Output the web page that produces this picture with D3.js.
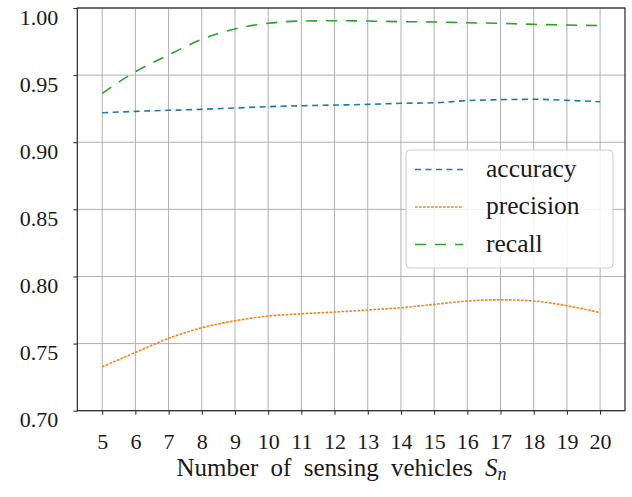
<!DOCTYPE html>
<html>
<head>
<meta charset="utf-8">
<script src="https://cdn.jsdelivr.net/npm/d3@7"></script>
<style>
  body { margin: 0; background: #fff; }
  text { font-family: "Liberation Serif", "DejaVu Serif", serif; fill: #1a1a1a; }
</style>
</head>
<body>
<div id="chart"></div>
<script>
// Data
var vehicles = [5, 6, 7, 8, 9, 10, 11, 12, 13, 14, 15, 16, 17, 18, 19, 20];
var accuracy = [0.922, 0.923, 0.9238, 0.9245, 0.9255, 0.9265, 0.9272, 0.9277, 0.9282, 0.929, 0.9294, 0.931, 0.9317, 0.932, 0.9312, 0.9302];
var precision = [0.7327, 0.7434, 0.7539, 0.7618, 0.767, 0.7705, 0.7722, 0.7735, 0.775, 0.7767, 0.7792, 0.7817, 0.7826, 0.7817, 0.7782, 0.773];
var recall = [0.9364, 0.9525, 0.965, 0.9767, 0.9844, 0.9886, 0.9903, 0.9905, 0.9903, 0.9898, 0.9896, 0.989, 0.9886, 0.9878, 0.9873, 0.9869];
var yTicks = [0.70, 0.75, 0.80, 0.85, 0.90, 0.95, 1.00];

var series = [
    {name: "accuracy", values: accuracy, color: "#1f77b4", dash: "6,4.5"},
    {name: "precision", values: precision, color: "#ff7f0e", dash: "2.6,1.4"},
    {name: "recall", values: recall, color: "#2ca02c", dash: "11,9"}
];

var width = 632, height = 497;
var margin = {top: 8, right: 7, bottom: 86.3, left: 77.3};
var serif = "'Liberation Serif', 'DejaVu Serif', serif";

var svg = d3.select("#chart")
    .append("svg")
    .attr("width", width)
    .attr("height", height);

// Set the ranges
var x = d3.scaleLinear()
    .domain([4.25, 20.75])
    .range([margin.left, width - margin.right]);
var y = d3.scaleLinear()
    .domain([0.70, 1.00])
    .range([height - margin.bottom, margin.top]);

// Grid
svg.append("g")
    .selectAll("line")
    .data(vehicles)
    .join("line")
    .attr("x1", d => x(d)).attr("x2", d => x(d))
    .attr("y1", y.range()[0]).attr("y2", y.range()[1])
    .attr("stroke", "#b0b0b0")
    .attr("stroke-width", 1);
svg.append("g")
    .selectAll("line")
    .data(yTicks)
    .join("line")
    .attr("x1", x.range()[0]).attr("x2", x.range()[1])
    .attr("y1", d => y(d)).attr("y2", d => y(d))
    .attr("stroke", "#b0b0b0")
    .attr("stroke-width", 1);

// Axes
var xAxis = d3.axisBottom(x).tickValues(vehicles).tickSize(4).tickPadding(8).tickFormat(d3.format("d"));
var yAxis = d3.axisLeft(y).tickValues(yTicks).tickSize(4).tickPadding(15).tickFormat(d3.format(".2f"));

var gx = svg.append("g")
    .attr("transform", "translate(0," + y.range()[0] + ")")
    .call(xAxis);
var gy = svg.append("g")
    .attr("transform", "translate(" + x.range()[0] + ",0)")
    .call(yAxis);

[gx, gy].forEach(g => {
    g.select(".domain").remove();
    g.selectAll(".tick line").attr("stroke", "#262626").attr("stroke-width", 1);
    g.selectAll(".tick text")
        .attr("fill", "#1a1a1a")
        .style("font-family", serif)
        .style("font-size", "22px");
});
gx.selectAll(".tick text").attr("y", 23);
gy.selectAll(".tick text").attr("dy", "0.35em").attr("y", 8.5);

// Frame
svg.append("rect")
    .attr("x", x.range()[0])
    .attr("y", y.range()[1])
    .attr("width", x.range()[1] - x.range()[0])
    .attr("height", y.range()[0] - y.range()[1])
    .attr("fill", "none")
    .attr("stroke", "#262626")
    .attr("stroke-width", 1.2);

// Lines
var line = d3.line()
    .x((d, i) => x(vehicles[i]))
    .y(d => y(d))
    .curve(d3.curveMonotoneX);

series.forEach(s => {
    svg.append("path")
        .attr("d", line(s.values))
        .attr("fill", "none")
        .attr("stroke", s.color)
        .attr("stroke-width", 1.6)
        .attr("stroke-dasharray", s.dash);
});

// Legend
var legend = svg.append("g").attr("transform", "translate(406,150)");
legend.append("rect")
    .attr("width", 207)
    .attr("height", 118)
    .attr("rx", 4)
    .attr("fill", "#fff")
    .attr("fill-opacity", 0.85)
    .attr("stroke", "#cccccc")
    .attr("stroke-width", 1);
series.forEach((s, i) => {
    var ly = 19.5 + i * 37.5;
    legend.append("line")
        .attr("x1", 9).attr("x2", 57)
        .attr("y1", ly).attr("y2", ly)
        .attr("stroke", s.color)
        .attr("stroke-width", 1.6)
        .attr("stroke-dasharray", s.dash);
    legend.append("text")
        .attr("x", 80)
        .attr("y", ly + 7)
        .style("font-size", "25.5px")
        .text(s.name);
});

// X label
var xl = svg.append("text")
    .attr("x", 341.5)
    .attr("y", 476)
    .attr("text-anchor", "middle")
    .style("font-size", "25px")
    .style("word-spacing", "6px");
xl.append("tspan").text("Number of sensing vehicles ");
xl.append("tspan").style("font-style", "italic").text("S");
xl.append("tspan").style("font-style", "italic").style("font-size", "18px").attr("dy", 4).text("n");
</script>
</body>
</html>
